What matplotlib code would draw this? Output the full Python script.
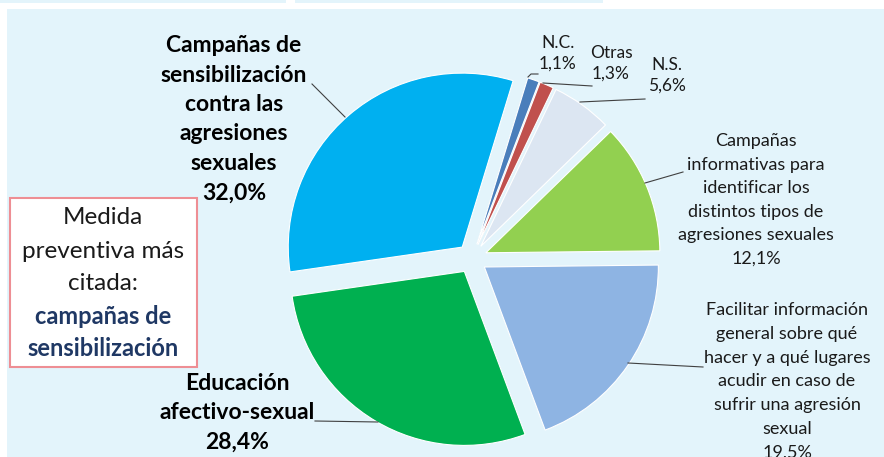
import matplotlib.pyplot as plt
from matplotlib.patches import Rectangle

plt.rcParams['font.family'] = ['Lato', 'DejaVu Sans']

# data (clockwise from the top)
categorias = ['N.C.', 'Otras', 'N.S.',
              'Campañas\ninformativas para\nidentificar los\ndistintos tipos de\nagresiones sexuales',
              'Facilitar información\ngeneral sobre qué\nhacer y a qué lugares\nacudir en caso de\nsufrir una agresión\nsexual',
              'Educación\nafectivo-sexual',
              'Campañas de\nsensibilización\ncontra las\nagresiones\nsexuales']
valores = [1.1, 1.3, 5.6, 12.1, 19.5, 28.4, 32.0]
colores = ['#4A7EBB', '#C0504D', '#DCE6F2', '#92D050', '#8EB4E3', '#00B050', '#00B0F0']

W, H = 884, 457
def Y(y):
    # image y (top down) -> axes y
    return H - y

fig = plt.figure(figsize=(W / 100, H / 100), dpi=100)
ax = fig.add_axes([0, 0, 1, 1])

# background panel
fig.patch.set_facecolor('white')
ax.add_patch(Rectangle((7, 0), W - 7, H - 9, facecolor='#E3F4FB', edgecolor='none', zorder=0))
ax.add_patch(Rectangle((0, Y(3)), 286, 3, facecolor='#E3F4FB', edgecolor='none', zorder=0))
ax.add_patch(Rectangle((295, Y(3)), 308, 3, facecolor='#E3F4FB', edgecolor='none', zorder=0))

# explode offset is in data units here (pixels)
wedges, _ = ax.pie(valores, colors=colores, startangle=73, counterclock=False,
                   explode=[15] * len(valores), radius=174, center=(472, Y(258.5)),
                   wedgeprops=dict(edgecolor='white', linewidth=0.8), frame=True)
ax.set_xlim(0, W)
ax.set_ylim(0, H)
ax.set_aspect('equal')
ax.axis('off')

def pct(v):
    return f'{v:.1f}%'.replace('.', ',')

txt = '#1A1A1A'
# small labels
ax.text(558, Y(35), categorias[0] + '\n' + pct(valores[0]), ha='center', va='top',
        fontsize=12.5, color=txt, linespacing=1.35)
ax.text(611, Y(45), categorias[1] + '\n' + pct(valores[1]), ha='center', va='top',
        fontsize=12.5, color=txt, linespacing=1.35)
ax.text(667, Y(57), categorias[2] + '\n' + pct(valores[2]), ha='center', va='top',
        fontsize=12.5, color=txt, linespacing=1.35)
ax.text(756, Y(133), categorias[3] + '\n' + pct(valores[3]), ha='center', va='top',
        fontsize=13, color=txt, linespacing=1.58)
ax.text(787, Y(302), categorias[4] + '\n' + pct(valores[4]), ha='center', va='top',
        fontsize=13, color=txt, linespacing=1.6)
# big labels
ax.text(237, Y(373), categorias[5] + '\n' + pct(valores[5]), ha='center', va='top',
        fontsize=16.5, fontweight='bold', color='black', linespacing=1.48)
ax.text(234, Y(35), categorias[6] + '\n' + pct(valores[6]), ha='center', va='top',
        fontsize=16.5, fontweight='bold', color='black', linespacing=1.5)

# leader lines
lc = '#404040'
ax.plot([312, 345], [Y(84), Y(117)], color=lc, lw=0.8)
ax.plot([315, 378], [Y(421), Y(422)], color=lc, lw=0.8)
ax.plot([528, 531, 538], [Y(77), Y(74), Y(74)], color=lc, lw=0.8)
ax.plot([543, 592], [Y(83), Y(86)], color=lc, lw=0.8)
ax.plot([580, 645], [Y(102), Y(99)], color=lc, lw=0.8)
ax.plot([645, 683], [Y(183), Y(172)], color=lc, lw=0.8)
ax.plot([628, 703], [Y(363), Y(367)], color=lc, lw=0.8)

# note box
ax.add_patch(Rectangle((10, Y(367)), 187, 169, facecolor='white', edgecolor='#EE8E94',
                       linewidth=1.5, zorder=3))
ax.text(103, Y(218), 'Medida', ha='center', va='center', fontsize=17.5, color=txt, zorder=4)
ax.text(103, Y(251), 'preventiva más', ha='center', va='center', fontsize=17.5, color=txt, zorder=4)
ax.text(103, Y(283), 'citada:', ha='center', va='center', fontsize=17.5, color=txt, zorder=4)
ax.text(103, Y(316), 'campañas de', ha='center', va='center', fontsize=17,
        fontweight='bold', color='#1F3864', zorder=4)
ax.text(103, Y(348), 'sensibilización', ha='center', va='center', fontsize=17,
        fontweight='bold', color='#1F3864', zorder=4)

fig.savefig('out.png', dpi=100, facecolor='white')
